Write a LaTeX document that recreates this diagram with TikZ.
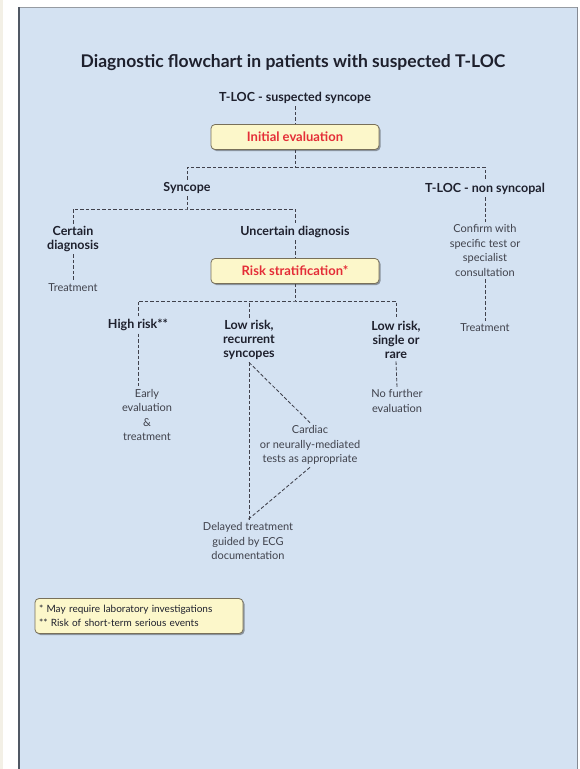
\documentclass[tikz,border=0pt]{standalone}
\usepackage{fontspec}
\setmainfont{Lato}
\usetikzlibrary{shadows,calc}
\definecolor{cream}{RGB}{243,240,230}
\definecolor{panel}{RGB}{212,226,242}
\definecolor{ink}{RGB}{30,32,45}
\definecolor{boxfill}{RGB}{252,247,202}
\definecolor{boxedge}{RGB}{120,112,90}
\definecolor{redtxt}{RGB}{228,45,55}
\definecolor{border}{RGB}{80,88,100}
\tikzset{
  lbl/.style={text=ink, inner sep=2.5pt, align=center, font=\fontsize{12.5}{14}\selectfont\bfseries},
  small/.style={text=ink!85, inner sep=2.5pt, align=center, font=\fontsize{11}{14.6}\selectfont},
  ybox/.style={draw=boxedge, line width=0.8pt, fill=boxfill, rounded corners=4pt,
    minimum width=168pt, minimum height=25pt, text=redtxt,
    font=\fontsize{13}{15}\selectfont\bfseries,
    drop shadow={shadow xshift=1.5pt, shadow yshift=-1.5pt, opacity=0.35, fill=black}},
  conn/.style={draw=ink!85, line width=0.85pt, dash pattern=on 3.5pt off 2pt}
}
\begin{document}
\begin{tikzpicture}[x=1pt,y=-1pt]
\useasboundingbox (0,0) rectangle (580,769);
% background
\fill[white] (0,0) rectangle (580,769);
\fill[cream] (0,0) rectangle (3,769);
\fill[panel] (18,7) rectangle (578,769);
\draw[border!60, line width=1pt] (18,7) -- (578,7);
\draw[border!70, line width=1.2pt] (577.5,7) -- (577.5,769);
\draw[border, line width=1.6pt] (18.8,7) -- (18.8,769);

% title
\node[text=ink, font=\fontsize{17.5}{20}\selectfont\bfseries] (title) at (293,63) {Diagnostic flowchart in patients with suspected T-LOC};

% nodes
\node[lbl] (tloc) at (295,98) {T-LOC - suspected syncope};
\node[ybox] (init) at (295,137) {Initial evaluation};
\node[lbl] (syn) at (187,188) {Syncope};
\node[lbl] (nonsyn) at (485,189) {T-LOC - non syncopal};
\node[lbl] (certain) at (73,239) {Certain\\diagnosis};
\node[lbl] (uncertain) at (295,232) {Uncertain diagnosis};
\node[small] (treat1) at (73,288) {Treatment};
\node[ybox] (risk) at (295,271) {Risk stratification*};
\node[small] (confirm) at (485,250.5) {Confirm with\\specific test or\\specialist\\consultation};
\node[small] (treat2) at (485,328) {Treatment};
\node[lbl] (high) at (138,325) {High risk**};
\node[lbl] (lowrec) at (249,340) {Low risk,\\recurrent\\syncopes};
\node[lbl] (lowsingle) at (396,340) {Low risk,\\single or\\rare};
\node[small] (early) at (147,415) {Early\\evaluation\\\&\\treatment};
\node[small] (nofurther) at (397,401) {No further\\evaluation};
\node[small] (cardiac) at (310,445) {Cardiac\\or neurally-mediated\\tests as appropriate};
\node[small] (delayed) at (248,541) {Delayed treatment\\guided by ECG\\documentation};

% footnote box
\node[draw=boxedge, line width=0.8pt, fill=boxfill, rounded corners=4pt,
  minimum width=208pt, minimum height=35pt, text width=200pt, align=left,
  text=ink, font=\fontsize{10}{13.5}\selectfont, inner sep=3pt,
  drop shadow={shadow xshift=1.5pt, shadow yshift=-1.5pt, opacity=0.35, fill=black}]
  (foot) at (139,616) {* May require laboratory investigations\\{}** Risk of short-term serious events};

% bus coordinates
\coordinate (bus1) at (295,167);
\coordinate (bus2) at (187,209);
\coordinate (bus3) at (295,301);

% connectors
\draw[conn] (tloc.south) -- (init.north);
\draw[conn] (init.south) -- (bus1);
\draw[conn] (syn.north) |- (bus1) -| (nonsyn.north);
\draw[conn] (syn.south) -- (bus2);
\draw[conn] (certain.north) |- (bus2) -| (uncertain.north);
\draw[conn] (uncertain.south) -- (risk.north);
\draw[conn] (certain.south) -- (treat1.north);
\draw[conn] (nonsyn.south) -- (confirm.north);
\draw[conn] (confirm.south) -- (treat2.north);
\draw[conn] (risk.south) -- (bus3);
\draw[conn] (high.north) |- (bus3) -| (lowsingle.north);
\draw[conn] (lowrec.north) -- (lowrec.north |- bus3);
\draw[conn] (high.south) -- (high.south |- early.north);
\draw[conn] (lowsingle.south) -- (nofurther.north);
\draw[conn] (lowrec.south) -- (lowrec.south |- delayed.north);
\draw[conn] (lowrec.south) -- (cardiac.north);
\draw[conn] (cardiac.south) -- (delayed.north);
\end{tikzpicture}
\end{document}
